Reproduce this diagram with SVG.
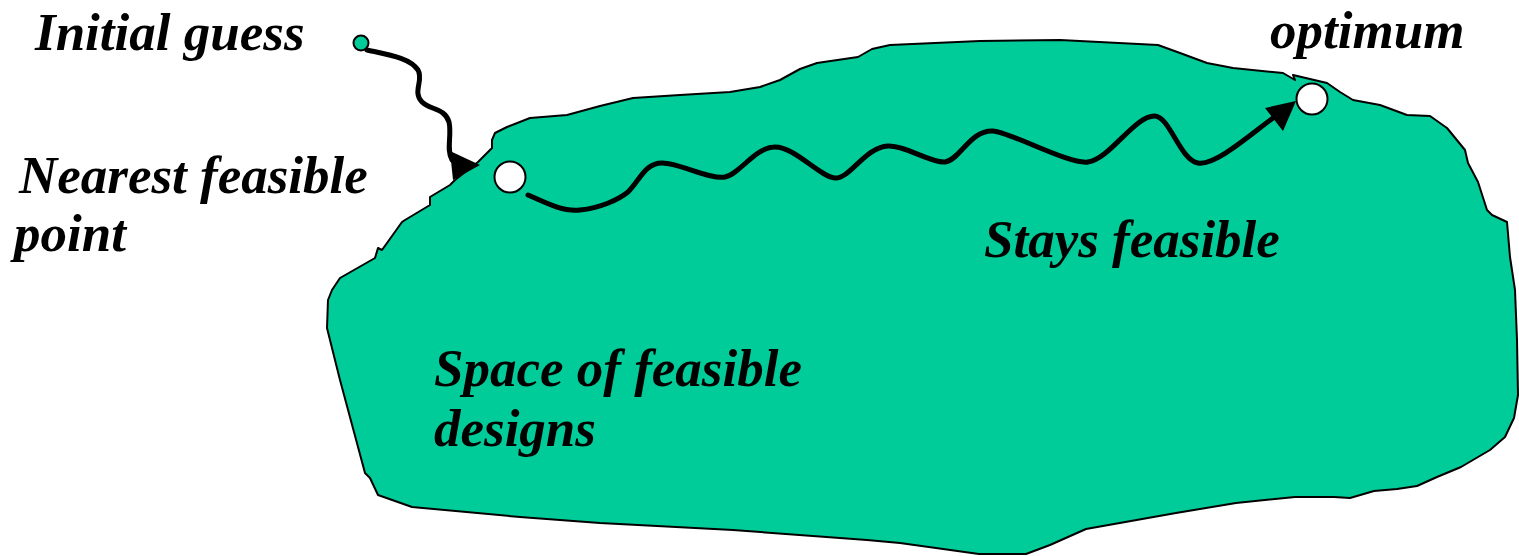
<svg xmlns="http://www.w3.org/2000/svg" width="1519" height="556" viewBox="0 0 1519 556">
<style>
.lbl{font-family:"Liberation Serif","Times New Roman",serif;font-weight:bold;font-style:italic;font-size:53px;fill:#000}
.blob{fill:#00CC99;stroke:#000;stroke-width:2;stroke-linejoin:round}
.path{fill:none;stroke:#000;stroke-width:5;stroke-linecap:round;stroke-linejoin:round}
.pt{fill:#fff;stroke:#000;stroke-width:2}
</style>
<g id="feasible-space">
<path class="blob" d="M492,140 L495,133 L507,127 L530,118 L567,115 L600,106 L633,98 L680,95 L730,92 L760,87 L780,80 L800,69 L817,63 L858,57 L872,49 L890,45 L980,41 L1060,40 L1158,45 L1180,53 L1207,63 L1233,68 L1283,73 L1295,80 L1293,75 L1327,83 L1340,92 L1353,100 L1380,105 L1407,115 L1430,116 L1447,128 L1465,150 L1468,163 L1478,182 L1487,210 L1492,215 L1507,222 L1510,257 L1515,290 L1517,340 L1518,395 L1514,418 L1505,437 L1490,450 L1461,467 L1437,477 L1417,486 L1397,489 L1374,491 L1350,498 L1334,497 L1295,497 L1236,503 L1176,513 L1086,529 L1050,545 L1026,554 L979,554 L900,543 L867,540 L733,530 L600,523 L520,517 L412,507 L378,495 L370,478 L365,473 L340,380 L327,328 L328,300 L332,290 L340,278 L375,258 L378,248 L382,250 L402,222 L405,220 L430,205 L430,197 L450,185 L455,180 L478,162 L492,148 Z"/>
</g>
<g id="connectors">
<path class="path" d="M367,50 C390,55 410,58 418,70 C424,80 412,92 422,102 C430,110 445,108 449,122 C452,135 446,150 452,160"/>
<polygon points="450,151 480,165 453,180" fill="#000"/>
<path class="path" d="M528,195 C550,205 565,212 580,210 C600,208 618,200 628,192 C640,180 645,163 662,163 C680,163 710,180 725,177 C740,174 755,147 775,147 C795,147 820,177 835,178 C850,179 865,147 888,146 C905,145 930,163 945,162 C960,160 970,130 993,131 C1010,132 1070,165 1088,162 C1110,159 1135,115 1155,116 C1170,117 1180,160 1198,163 C1215,166 1250,135 1273,118"/>
<polygon points="1265,108 1296,101 1283,131" fill="#000"/>
</g>
<g id="initial-guess">
<circle cx="361" cy="43" r="7.5" fill="#00CC99" stroke="#000" stroke-width="2"/>
<text class="lbl" x="35" y="50">Initial guess</text>
</g>
<g id="nearest-feasible-point">
<circle class="pt" cx="510" cy="177" r="15.5"/>
<text class="lbl" x="19" y="193">Nearest feasible</text>
<text class="lbl" x="14" y="251">point</text>
</g>
<g id="optimum">
<circle class="pt" cx="1312" cy="99" r="15.5"/>
<text class="lbl" x="1270" y="48">optimum</text>
</g>
<g id="stays-feasible">
<text class="lbl" x="984" y="257">Stays feasible</text>
</g>
<g id="space-label">
<text class="lbl" x="434" y="386">Space of feasible</text>
<text class="lbl" x="434" y="446">designs</text>
</g>
</svg>
